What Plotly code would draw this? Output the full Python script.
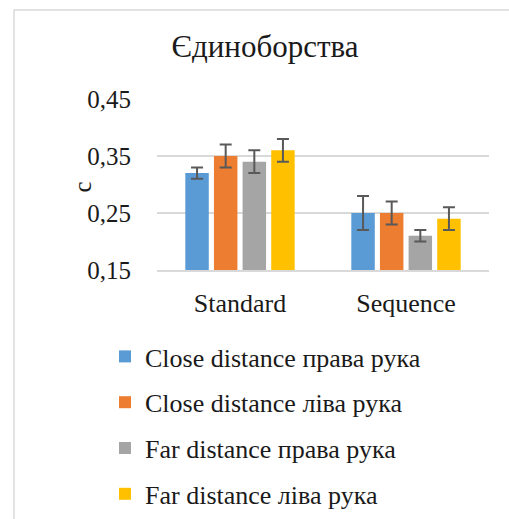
import plotly.graph_objects as go

categories = ["Standard", "Sequence"]
series_names = [
    "Close distance права рука",
    "Close distance ліва рука",
    "Far distance права рука",
    "Far distance ліва рука",
]
close_right = [0.32, 0.25]
close_left = [0.35, 0.25]
far_right = [0.34, 0.21]
far_left = [0.36, 0.24]
err_close_right = [0.01, 0.03]
err_close_left = [0.02, 0.02]
err_far_right = [0.02, 0.01]
err_far_left = [0.02, 0.02]
y_ticks = [0.15, 0.25, 0.35, 0.45]

colors = ["#5B9BD5", "#ED7D31", "#A5A5A5", "#FFC000"]
values = [close_right, close_left, far_right, far_left]
errors = [err_close_right, err_close_left, err_far_right, err_far_left]

FONT = "Liberation Serif, Times New Roman, serif"
W, H = 509, 519
L, R, T, B = 157, 20, 99, 249
pw, ph = W - L - R, H - T - B

def px_x(p):
    return (p - L) / pw

def px_y(p):
    return (H - B - p) / ph

fig = go.Figure()
for name, vals, errs, col in zip(series_names, values, errors, colors):
    fig.add_trace(go.Bar(
        x=categories, y=vals, name=name, legendgroup=name,
        marker=dict(color=col, line=dict(width=0)),
        error_y=dict(type="data", array=errs, visible=True,
                     color="#595959", thickness=2, width=6),
    ))

fig.update_layout(
    width=W, height=H,
    margin=dict(l=L, r=R, t=T, b=B, autoexpand=False),
    paper_bgcolor="white", plot_bgcolor="white",
    separators=", ",
    barmode="group", bargap=0.31, bargroupgap=0.18,
    font=dict(family=FONT, color="#1a1a1a", size=22),
    title=dict(text="Єдиноборства", x=265 / W, xanchor="center",
               y=1 - 46 / H, yanchor="middle", xref="container", yref="container",
               font=dict(family=FONT, size=31, color="#1a1a1a")),
    showlegend=True,
    legend=dict(x=px_x(105), xanchor="left", y=px_y(333), yanchor="top",
                font=dict(family=FONT, size=26, color="#1a1a1a"),
                tracegroupgap=9, bgcolor="rgba(0,0,0,0)"),
    xaxis=dict(showgrid=False, showline=True, linecolor="#D9D9D9", linewidth=1.5,
               ticks="outside", ticklen=9, tickcolor="rgba(0,0,0,0)",
               tickfont=dict(family=FONT, size=26, color="#1a1a1a")),
    yaxis=dict(range=[0.15, 0.45], tickvals=y_ticks, tickformat=".2f",
               showgrid=True, gridcolor="#D9D9D9", gridwidth=1.5,
               zeroline=False, showline=False,
               ticks="outside", ticklen=20, tickcolor="rgba(0,0,0,0)",
               tickfont=dict(family=FONT, size=25, color="#1a1a1a")),
    annotations=[dict(text="c", textangle=-90, x=px_x(66), y=px_y(187),
                      xref="paper", yref="paper", showarrow=False,
                      font=dict(family=FONT, size=25, color="#1a1a1a"))],
    shapes=[dict(type="rect", xref="paper", yref="paper",
                 x0=px_x(14), x1=px_x(W + 20), y0=px_y(H + 20), y1=px_y(10),
                 line=dict(color="#D9D9D9", width=1.5), fillcolor="rgba(0,0,0,0)",
                 layer="below")],
)

fig.write_html("out.html", config={"displayModeBar": False},
               post_script="document.body.style.margin='0';document.body.style.overflow='hidden';")
